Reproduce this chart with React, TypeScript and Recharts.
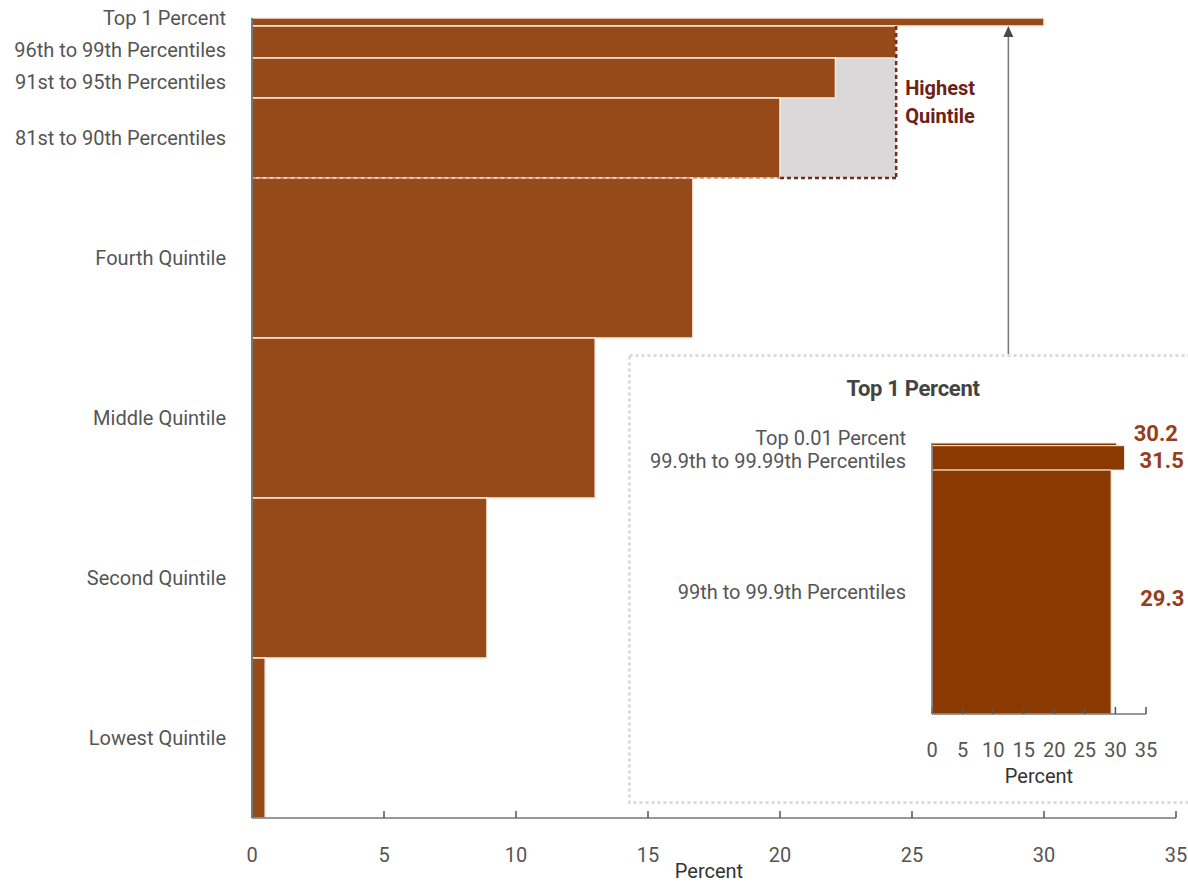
import { ComposedChart, ReferenceArea, ReferenceLine, Scatter, XAxis, YAxis } from 'recharts';

// main chart: income groups, top to bottom
const groups = [
	'Top 1 Percent',
	'96th to 99th Percentiles',
	'91st to 95th Percentiles',
	'81st to 90th Percentiles',
	'Fourth Quintile',
	'Middle Quintile',
	'Second Quintile',
	'Lowest Quintile'
];
const groupShares = [1, 4, 5, 10, 20, 20, 20, 20]; // percent of population (bar thickness)
const groupRates = [30.0, 24.4, 22.1, 20.0, 16.7, 13.0, 8.9, 0.5]; // percent

const highestQuintileRate = 24.4;
const highestQuintileShare = 20;

// inset: inside the top 1 percent
const topGroups = ['Top 0.01 Percent', '99.9th to 99.99th Percentiles', '99th to 99.9th Percentiles'];
const topShares = [0.01, 0.09, 0.9];
const topRates = [30.2, 31.5, 29.3];

const xTicks = [0, 5, 10, 15, 20, 25, 30, 35];

const BAR = '#964a1a';
const INSET_BAR = '#8a3a00';
const TEXT = '#555';
const AXIS = '#777';
const DASH = '#7a2a1a';

function toBands(shares: number[], rates: number[]) {
	let acc = 0;
	return shares.map((s, i) => {
		const start = acc;
		acc += s;
		return { start, end: acc, mid: start + s / 2, rate: rates[i] };
	});
}

const mainBands = toBands(groupShares, groupRates);
const topBands = toBands(topShares, topRates);

// small vertical nudges (px) for crowded labels at the top
const mainLabelNudge = [-4, 8, 4, 0, 0, 0, 0, 0];
const topLabelNudge = [-6, 3, 0];
const topValueOffset = [
	{ dx: 17, dy: -11 },
	{ dx: 15, dy: 2 },
	{ dx: 29, dy: 6 }
];

const makeTick = (labels: string[], nudge: number[]) => (props: any) => {
	const { x, y, index } = props;
	return (
		<text x={x} y={y + (nudge[index] || 0)} dy="0.355em" textAnchor="end" fill={TEXT} fontSize={20}>
			{labels[index]}
		</text>
	);
};

const Arrow = (p: any) => {
	const { x1, y1, y2 } = p;
	const top = Math.min(y1, y2);
	const bottom = Math.max(y1, y2);
	return (
		<g>
			<line x1={x1} y1={bottom} x2={x1} y2={top + 8} stroke={AXIS} strokeWidth={1.5} />
			<path d={`M${x1},${top} l-5,11 l10,0 z`} fill="#4a4a4a" />
		</g>
	);
};

const Nothing = () => <g />;

export default function App() {
	return (
		<div style={{ position: 'absolute', left: 0, top: 0, width: 1188, height: 882, fontFamily: 'Roboto', background: '#fff' }}>
			<ComposedChart width={1188} height={882} data={mainBands} margin={{ top: 18, right: 12, bottom: 0, left: 0 }}>
				<XAxis
					type="number"
					dataKey="rate"
					domain={[0, 35]}
					allowDataOverflow
					ticks={xTicks}
					interval={0}
					height={64}
					tickSize={-7}
					tickMargin={37}
					axisLine={{ stroke: AXIS, strokeWidth: 1.5 }}
					tickLine={{ stroke: '#555', strokeWidth: 1.5 }}
					tick={{ fill: TEXT, fontSize: 20 }}
					label={{ value: 'Percent', position: 'insideBottom', offset: 4, fill: '#333', fontSize: 20, dx: -5 }}
				/>
				<YAxis
					type="number"
					dataKey="mid"
					domain={[0, 100]}
					allowDataOverflow
					reversed
					ticks={mainBands.map((b) => b.mid)}
					interval={0}
					width={252}
					tickSize={0}
					tickMargin={26}
					tickLine={false}
					axisLine={{ stroke: AXIS, strokeWidth: 2 }}
					tick={makeTick(groups, mainLabelNudge)}
				/>
				<ReferenceArea
					x1={0}
					x2={highestQuintileRate}
					y1={mainBands[2].start}
					y2={highestQuintileShare}
					fill="#dbd8d9"
					fillOpacity={1}
					stroke="none"
					label={(p: any) => {
						const { x, y, width } = p.viewBox;
						return (
							<text x={x + width + 9} y={y} fill="#6b2217" fontSize={20} fontWeight="bold">
								<tspan x={x + width + 9} dy={37}>Highest</tspan>
								<tspan x={x + width + 9} dy={28}>Quintile</tspan>
							</text>
						);
					}}
				/>
				{groups.map((g, i) => (
					<ReferenceArea
						key={g}
						x1={0}
						x2={groupRates[i]}
						y1={mainBands[i].start}
						y2={mainBands[i].end}
						fill={BAR}
						fillOpacity={1}
						stroke="#f8ece4"
						strokeWidth={1.5}
					/>
				))}
				<ReferenceLine
					segment={[
						{ x: highestQuintileRate, y: groupShares[0] },
						{ x: highestQuintileRate, y: highestQuintileShare }
					]}
					stroke={DASH}
					strokeWidth={2.5}
					strokeDasharray="4 3"
				/>
				<ReferenceLine
					segment={[
						{ x: 0, y: highestQuintileShare },
						{ x: groupRates[3], y: highestQuintileShare }
					]}
					stroke="#b2654a"
					strokeWidth={1}
					strokeDasharray="4 3"
				/>
				<ReferenceLine
					segment={[
						{ x: groupRates[3], y: highestQuintileShare },
						{ x: highestQuintileRate, y: highestQuintileShare }
					]}
					stroke={DASH}
					strokeWidth={2.5}
					strokeDasharray="4 3"
				/>
				<ReferenceLine
					segment={[
						{ x: 28.65, y: groupShares[0] },
						{ x: 28.65, y: 42 }
					]}
					shape={Arrow}
				/>
				<Scatter dataKey="mid" shape={Nothing} isAnimationActive={false} />
			</ComposedChart>

			<svg width={1188} height={882} style={{ position: 'absolute', left: 0, top: 0, pointerEvents: 'none' }}>
				<rect x={629.5} y={355.5} width={620} height={447} fill="none" stroke="#dcdcdc" strokeWidth={3} strokeDasharray="3 3" />
			</svg>

			<div
				style={{
					position: 'absolute',
					left: 813,
					top: 377,
					width: 200,
					textAlign: 'center',
					fontSize: 22,
					lineHeight: '24px',
					fontWeight: 'bold',
					color: '#444',
					letterSpacing: -0.3
				}}
			>
				Top 1 Percent
			</div>

			<div style={{ position: 'absolute', left: 628, top: 354 }}>
				<ComposedChart width={560} height={450} data={topBands} margin={{ top: 89, right: 42, bottom: 0, left: 0 }}>
					<XAxis
						type="number"
						dataKey="rate"
						domain={[0, 35]}
						allowDataOverflow
						ticks={xTicks}
						interval={0}
						height={90}
						tickSize={-7}
						tickMargin={36}
						axisLine={{ stroke: AXIS, strokeWidth: 1.5 }}
						tickLine={{ stroke: '#555', strokeWidth: 1.5 }}
						tick={{ fill: TEXT, fontSize: 20 }}
						label={{ value: 'Percent', position: 'insideBottom', offset: 21, fill: '#333', fontSize: 20 }}
					/>
					<YAxis
						type="number"
						dataKey="mid"
						domain={[0, 1]}
						allowDataOverflow
						reversed
						ticks={topBands.map((b) => b.mid)}
						interval={0}
						width={304}
						tickSize={0}
						tickMargin={26}
						tickLine={false}
						axisLine={{ stroke: AXIS, strokeWidth: 1.5 }}
						tick={makeTick(topGroups, topLabelNudge)}
					/>
					{topGroups.map((g, i) => (
						<ReferenceArea
							key={g}
							x1={0}
							x2={topRates[i]}
							y1={topBands[i].start}
							y2={topBands[i].end}
							fill={INSET_BAR}
							fillOpacity={1}
							stroke="#f8ece4"
							strokeWidth={1}
							label={(p: any) => {
								const { x, y, width, height } = p.viewBox;
								return (
									<text
										x={x + width + topValueOffset[i].dx}
										y={y + height / 2 + topValueOffset[i].dy}
										dy="0.355em"
										fill="#963d1b"
										fontSize={22}
										fontWeight="bold"
									>
										{topRates[i].toFixed(1)}
									</text>
								);
							}}
						/>
					))}
					<Scatter dataKey="mid" shape={Nothing} isAnimationActive={false} />
				</ComposedChart>
			</div>
		</div>
	);
}
